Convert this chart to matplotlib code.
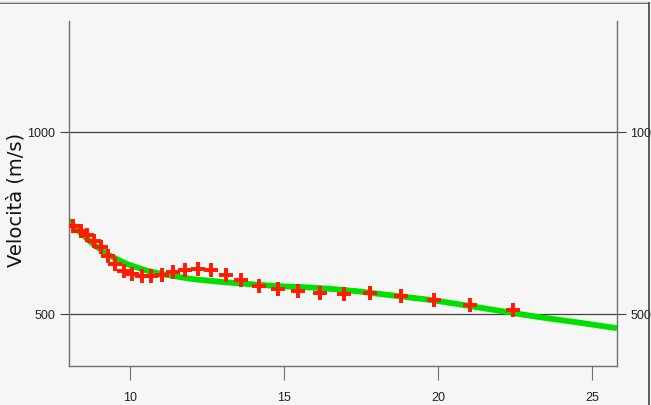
import matplotlib
matplotlib.use("Agg")
import matplotlib.pyplot as plt
from matplotlib.lines import Line2D

# measured points (red crosses)
x_meas = [8.15, 8.39, 8.60, 8.82, 9.04, 9.28, 9.52, 9.79, 10.06, 10.37, 10.69,
          11.02, 11.39, 11.77, 12.19, 12.64, 13.10, 13.61, 14.17, 14.79, 15.44,
          16.15, 16.94, 17.77, 18.78, 19.85, 21.04, 22.42]
v_meas = [743, 729, 717, 700, 683, 660, 637, 619, 610, 605, 604,
          607, 615, 622, 624, 622, 607, 592, 578, 569, 562,
          558, 555, 557, 548, 537, 525, 511]

# fitted curve (green)
x_fit = [8.0, 8.4, 8.8, 9.3, 9.9, 10.5, 11.0, 12.0, 13.1, 14.2, 14.9, 15.8,
         16.5, 17.3, 18.1, 18.9, 19.7, 20.5, 21.3, 22.4, 23.3, 24.5, 25.8]
v_fit = [757, 722, 692, 662, 637, 620, 610, 596, 587, 580, 576, 573,
         569, 563, 555, 547, 539, 529, 518, 503, 491, 477, 461]

x_ticks = [10, 15, 20, 25]
y_ticks = [500, 1000]

bg = "#f6f6f6"
tick_font = ["Liberation Sans Narrow", "Liberation Sans", "DejaVu Sans"]

fig = plt.figure(figsize=(6.51, 4.06), dpi=100, facecolor=bg)
ax = fig.add_axes([68.5 / 651, 1 - 367 / 406, (617 - 68.5) / 651, (367 - 22) / 406])
ax.set_facecolor(bg)

ax.plot(x_fit, v_fit, color="#00e000", lw=4.2, solid_capstyle="butt", zorder=2)
ax.plot(x_meas, v_meas, ls="none", marker="+", ms=10.5, mew=2.8, color="#ff1a00", zorder=3)

for yv in y_ticks:
    ax.axhline(yv, color="#404040", lw=0.9, zorder=1)

ax.set_xlim(8.0, 25.8)
ax.set_ylim(357, 1305)
ax.set_xticks(x_ticks)
ax.set_yticks(y_ticks)

ax.spines["top"].set_visible(False)
for s in ("left", "right", "bottom"):
    ax.spines[s].set_color("#707070")
    ax.spines[s].set_linewidth(1.0)

ax.tick_params(axis="x", direction="out", length=10, width=0.8, color="#707070",
               pad=8, labelsize=9)
ax.tick_params(axis="y", direction="out", length=6.5, width=0.8, color="#404040",
               pad=3, labelsize=9, right=True, labelright=True)
for lab in ax.get_xticklabels() + ax.get_yticklabels():
    lab.set_family(tick_font)
    lab.set_color("#222222")

ax.set_ylabel("Velocità (m/s)", fontsize=14, family="DejaVu Sans", color="#111111")
ax.yaxis.set_label_coords((26 - 68.5) / 548.5, (367 - 200) / 345)

# outer frame (top and right edges)
fig.add_artist(Line2D([0, 649 / 651], [1 - 4 / 406, 1 - 4 / 406], transform=fig.transFigure,
                      color="#404040", lw=1.2))
fig.add_artist(Line2D([0, 649 / 651], [1 - 3 / 406, 1 - 3 / 406], transform=fig.transFigure,
                      color="#c8c8c8", lw=1.0))
fig.add_artist(Line2D([649 / 651, 649 / 651], [0, 1 - 4 / 406], transform=fig.transFigure,
                      color="#404040", lw=1.2))

fig.savefig("out.png", dpi=100, facecolor=bg)
